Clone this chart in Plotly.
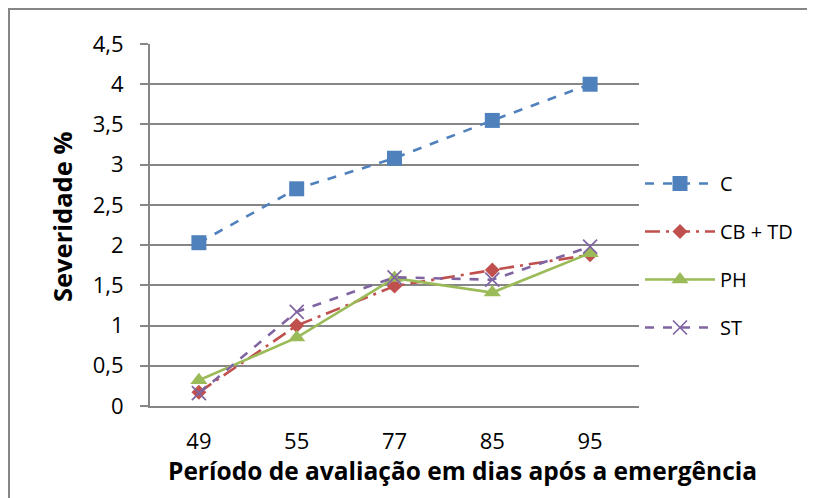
import plotly.graph_objects as go

categories = ["49", "55", "77", "85", "95"]
c_vals = [2.03, 2.70, 3.08, 3.55, 4.00]
cbtd_vals = [0.17, 1.00, 1.49, 1.69, 1.88]
ph_vals = [0.32, 0.85, 1.59, 1.41, 1.90]
st_vals = [0.16, 1.17, 1.60, 1.57, 1.98]
y_ticks = [0, 0.5, 1, 1.5, 2, 2.5, 3, 3.5, 4, 4.5]
y_tick_text = ["0", "0,5", "1", "1,5", "2", "2,5", "3", "3,5", "4", "4,5"]

FONT = "Open Sans"
OFF = 8  # page body margin
W, H = 815, 498
L, R, T, B = 150 - OFF, 639 - OFF, 44 - OFF, 406 - OFF

fig = go.Figure()
series = [
    ("C", c_vals, "#4F81BD", "dash", dict(symbol="square", size=15)),
    ("CB + TD", cbtd_vals, "#C0504D", "longdashdot", dict(symbol="diamond", size=11.5)),
    ("PH", ph_vals, "#9BBB59", "solid", dict(symbol="triangle-up", size=15)),
    ("ST", st_vals, "#8064A2", "dash", dict(symbol="x-thin", size=14, line=dict(width=1.7, color="#8064A2"))),
]
for name, vals, col, dash, mk in series:
    fig.add_trace(go.Scatter(
        x=categories, y=vals, name=name, mode="lines+markers",
        line=dict(color=col, width=2.6, dash=dash),
        marker=dict(color=col, **mk),
        legendgroup=name,
    ))

def px2x(px):
    return (px - OFF - L) / (R - L)

def py2y(py):
    return (B - (py - OFF)) / (B - T)

fig.update_layout(
    width=W, height=H,
    margin=dict(l=L, r=W - R, t=T, b=H - B, autoexpand=False),
    paper_bgcolor="white", plot_bgcolor="white",
    font=dict(family=FONT, color="black"),
    showlegend=True,
    legend=dict(
        x=px2x(640), y=py2y(164), xanchor="left", yanchor="top",
        font=dict(size=20, family=FONT), tracegroupgap=19,
        itemwidth=70, bgcolor="rgba(0,0,0,0)",
    ),
    xaxis=dict(
        type="category", range=[-0.5, 4.5],
        showgrid=False, showline=True, linecolor="#868686", linewidth=2,
        ticks="", tickfont=dict(size=22, family=FONT), ticklabelstandoff=15,
    ),
    yaxis=dict(
        range=[0, 4.5], tickvals=y_ticks, ticktext=y_tick_text,
        showgrid=True, gridcolor="#868686", gridwidth=2,
        showline=True, linecolor="#868686", linewidth=2,
        ticks="outside", ticklen=8, tickcolor="#868686", tickwidth=2,
        tickfont=dict(size=22, family=FONT), ticklabelstandoff=12,
        zeroline=False,
    ),
    annotations=[
        dict(text="<b>Período de avaliação em dias após a emergência</b>",
             xref="paper", yref="paper", x=px2x(462), y=py2y(470),
             xanchor="center", yanchor="middle", showarrow=False,
             font=dict(size=24.5, family=FONT)),
        dict(text="<b>Severidade %</b>", textangle=-90,
             xref="paper", yref="paper", x=px2x(62), y=py2y(217),
             xanchor="center", yanchor="middle", showarrow=False,
             font=dict(size=25.5, family=FONT)),
    ],
    shapes=[
        dict(type="rect", xref="paper", yref="paper",
             x0=px2x(9), x1=px2x(840), y0=py2y(520), y1=py2y(9),
             line=dict(color="#868686", width=2), fillcolor="rgba(0,0,0,0)", layer="below"),
    ],
)

fig.write_html("out.html")
